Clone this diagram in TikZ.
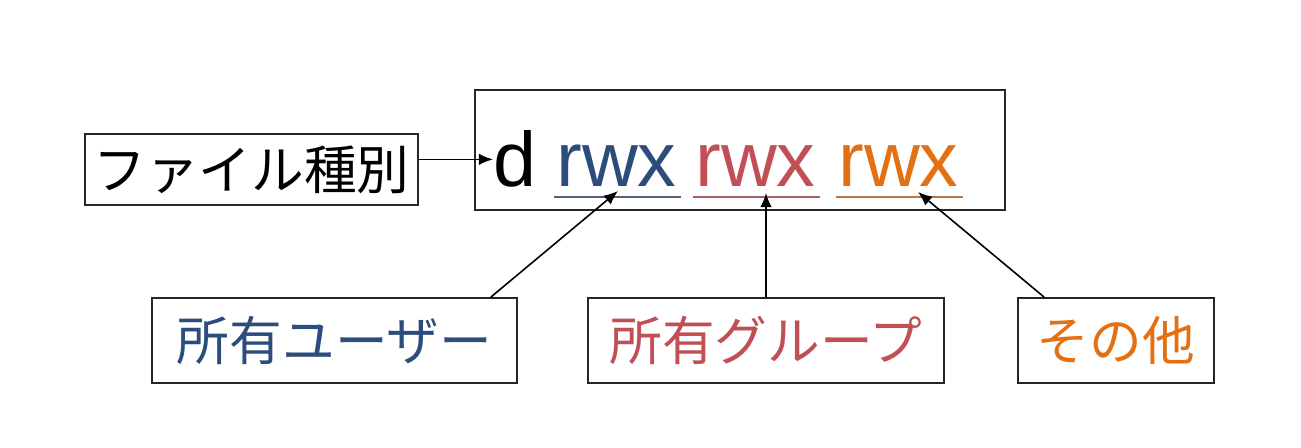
\documentclass[tikz,border=0pt]{standalone}
\usepackage{fontspec}
\setmainfont{Liberation Sans}
\newfontfamily\jp{Noto Sans CJK JP}
\usetikzlibrary{arrows.meta,calc}
\definecolor{usercol}{RGB}{44,77,124}
\definecolor{groupcol}{RGB}{192,80,85}
\definecolor{othercol}{RGB}{228,112,20}
\tikzset{
  box/.style={draw=black!85,line width=1.1pt,inner sep=0pt},
  lbl/.style={font=\jp\fontsize{30}{34}\selectfont},
  permtxt/.style={font=\fontsize{44}{50}\selectfont,inner sep=0pt,anchor=base west},
  uline/.style={line width=1.6pt},
  pointer/.style={-{Latex[length=8pt,width=6.5pt]},line width=0.9pt}
}
\begin{document}
\begin{tikzpicture}[x=0.02cm,y=-0.02cm]
\useasboundingbox (0,0) rectangle (1301,448);
\node[box,minimum width=10.6cm,minimum height=2.4cm] (permbox) at (740,150) {};
\node[permtxt] (d) at (493,187) {d};
\node[permtxt,text=usercol] (u) at (556,187) {rwx};
\node[permtxt,text=groupcol] (g) at (695,187) {rwx};
\node[permtxt,text=othercol] (o) at (838,187) {rwx};
\draw[uline,usercol!60!gray] ($(u.base west)+(-2,10)$) -- ($(u.base east)+(4,10)$);
\draw[uline,groupcol!60!gray] ($(g.base west)+(-2,10)$) -- ($(g.base east)+(4,10)$);
\draw[uline,othercol!60!gray] ($(o.base west)+(-2,10)$) -- ($(o.base east)+(4,10)$);

\node[box,lbl,minimum width=6.66cm,minimum height=1.42cm] (ftype) at (251.5,169.5) {ファイル種別};
\node[box,lbl,text=usercol,minimum width=7.3cm,minimum height=1.7cm] (user) at (334.5,340.5) {所有ユーザー};
\node[box,lbl,text=groupcol,minimum width=7.12cm,minimum height=1.7cm] (group) at (766,340.5) {所有グループ};
\node[box,lbl,text=othercol,minimum width=3.92cm,minimum height=1.7cm] (other) at (1116,340.5) {その他};

\draw[pointer] (ftype.east |- d.west) -- (d.west);
\draw[pointer] ($(user.north east)+(-27,0)$) -- ($(u.base west)+(62,4)$);
\draw[pointer] (group.north) -- ($(g.base west)+(71,6)$);
\draw[pointer] ($(other.north west)+(27,0)$) -- ($(o.base west)+(80,5)$);
\end{tikzpicture}
\end{document}
